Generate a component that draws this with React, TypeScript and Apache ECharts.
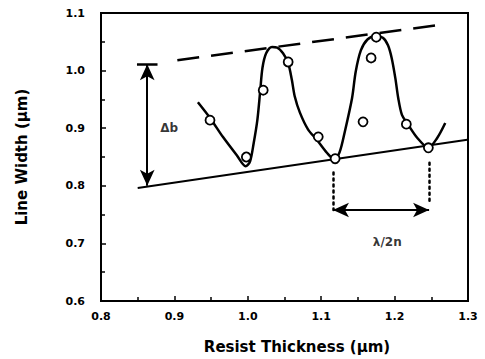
import React, { useEffect, useRef } from "react";
import * as echarts from "echarts";

const curveX = [0.932, 0.949, 0.966, 0.985, 0.997, 1.003, 1.008, 1.013, 1.017, 1.020, 1.025, 1.033, 1.040, 1.048, 1.055, 1.060, 1.064, 1.071, 1.082, 1.094, 1.108, 1.118, 1.125, 1.132, 1.142, 1.147, 1.154, 1.163, 1.174, 1.184, 1.191, 1.196, 1.201, 1.205, 1.210, 1.217, 1.231, 1.246, 1.258, 1.269];
const curveY = [0.945, 0.917, 0.885, 0.853, 0.834, 0.842, 0.874, 0.914, 0.966, 1.005, 1.030, 1.041, 1.040, 1.030, 1.013, 0.984, 0.955, 0.927, 0.898, 0.880, 0.857, 0.846, 0.858, 0.893, 0.952, 0.998, 1.035, 1.054, 1.060, 1.057, 1.044, 1.022, 0.987, 0.952, 0.923, 0.909, 0.883, 0.866, 0.883, 0.909];

// Measured points (open circles)
const pointX = [0.9485, 0.998, 1.021, 1.055, 1.096, 1.119, 1.157, 1.168, 1.175, 1.216, 1.246];
const pointY = [0.914, 0.85, 0.966, 1.015, 0.885, 0.847, 0.911, 1.022, 1.058, 0.907, 0.866];

// Lower envelope (solid) and upper envelope (dashed)
const lowerX = [0.85, 1.299];
const lowerY = [0.796, 0.88];
const upperX = [0.904, 1.271];
const upperY = [1.018, 1.081];

// Δb annotation
const deltaBX = 0.863;
const deltaBTop = 1.011;
const deltaBBottom = 0.8;
const deltaBBarX = [0.849, 0.877];
const deltaBLabel = { x: 0.893, y: 0.9, text: "Δb" };

// λ/2n annotation
const periodLeftX = 1.116;
const periodRightX = 1.247;
const periodLeftY = [0.823, 0.758];
const periodRightY = [0.84, 0.77];
const periodArrowY = 0.758;
const periodLabel = { x: 1.19, y: 0.703, text: "λ/2n" };

const xName = "Resist Thickness (μm)";
const yName = "Line Width (μm)";

const FONT = "DejaVu Sans";

export default function App() {
  const ref = useRef<HTMLDivElement>(null);
  useEffect(() => {
    if (!ref.current) return;
    const chart = echarts.init(ref.current, undefined, { renderer: "svg" });
    const black = "#000";
    const zip = (xs: number[], ys: number[]) => xs.map((x, i) => [x, ys[i]]);
    chart.setOption({
      animation: false,
      backgroundColor: "#fff",
      grid: { left: 101, right: 17, top: 13, bottom: 58, show: true, borderColor: black, borderWidth: 2, backgroundColor: "transparent" },
      xAxis: {
        type: "value", min: 0.8, max: 1.3, interval: 0.1,
        axisLine: { show: true, lineStyle: { color: black, width: 2 } },
        axisTick: { show: true, inside: true, length: 5, lineStyle: { color: black, width: 1.5 } },
        minorTick: { show: true, splitNumber: 2, length: 4, lineStyle: { color: black, width: 1.5 } },
        splitLine: { show: false },
        axisLabel: { formatter: (v: number) => v.toFixed(1), color: black, fontFamily: FONT, fontWeight: "bold", fontSize: 11, margin: 10 },
      },
      yAxis: {
        type: "value", min: 0.6, max: 1.1, interval: 0.1,
        axisLine: { show: true, lineStyle: { color: black, width: 2 } },
        axisTick: { show: true, inside: true, length: 5, lineStyle: { color: black, width: 1.5 } },
        minorTick: { show: true, splitNumber: 2, length: 4, lineStyle: { color: black, width: 1.5 } },
        splitLine: { show: false },
        axisLabel: { formatter: (v: number) => v.toFixed(1), color: black, fontFamily: FONT, fontWeight: "bold", fontSize: 11, margin: 16 },
      },
      graphic: [
        { type: "text", x: 297, y: 347, style: { text: xName, fill: black, font: `bold 15px "${FONT}"`, textAlign: "center", textVerticalAlign: "middle" } },
        { type: "text", x: 22, y: 157, rotation: Math.PI / 2, style: { text: yName, fill: black, font: `bold 15px "${FONT}"`, textAlign: "center", textVerticalAlign: "middle" } },
      ],
      series: [
        {
          type: "line", data: zip(curveX, curveY), smooth: 0.3, showSymbol: false, silent: true,
          lineStyle: { color: black, width: 2.5 }, z: 3,
        },
        {
          type: "line", data: zip(lowerX, lowerY), showSymbol: false, silent: true,
          lineStyle: { color: black, width: 2 }, z: 2,
        },
        {
          type: "line", data: zip(upperX, upperY), showSymbol: false, silent: true,
          lineStyle: { color: black, width: 2.5, type: [22, 12] }, z: 2,
        },
        {
          type: "scatter", data: zip(pointX, pointY), symbol: "circle", symbolSize: 9, silent: true,
          itemStyle: { color: "#fff", borderColor: black, borderWidth: 1.8, opacity: 1 }, z: 5,
        },
        {
          type: "line", data: [], silent: true,
          markLine: {
            silent: true, animation: false,
            label: { show: false },
            data: [
              [
                { coord: [deltaBX, deltaBTop], symbol: "arrow", symbolSize: [11, 16] },
                { coord: [deltaBX, deltaBBottom], symbol: "arrow", symbolSize: [11, 16], lineStyle: { color: black, width: 2, type: "solid" } },
              ],
              [
                { coord: [deltaBBarX[0], deltaBTop], symbol: "none" },
                { coord: [deltaBBarX[1], deltaBTop], symbol: "none", lineStyle: { color: black, width: 2.5, type: "solid" } },
              ],
              [
                { coord: [periodLeftX, periodLeftY[0]], symbol: "none" },
                { coord: [periodLeftX, periodLeftY[1]], symbol: "none", lineStyle: { color: black, width: 2.5, type: [2, 4], cap: "round" } },
              ],
              [
                { coord: [periodRightX, periodRightY[0]], symbol: "none" },
                { coord: [periodRightX, periodRightY[1]], symbol: "none", lineStyle: { color: black, width: 2.5, type: [2, 4], cap: "round" } },
              ],
              [
                { coord: [periodLeftX, periodArrowY], symbol: "arrow", symbolSize: [11, 16] },
                { coord: [periodRightX, periodArrowY], symbol: "arrow", symbolSize: [11, 16], lineStyle: { color: black, width: 2, type: "solid" } },
              ],
            ],
          },
        },
        {
          type: "scatter", silent: true, symbolSize: 1, itemStyle: { color: "transparent" },
          data: [
            { value: [deltaBLabel.x, deltaBLabel.y], label: { show: true, formatter: deltaBLabel.text } },
            { value: [periodLabel.x, periodLabel.y], label: { show: true, formatter: periodLabel.text } },
          ],
          label: { position: "inside", color: black, fontFamily: FONT, fontWeight: "bold", fontSize: 12 },
        },
      ],
    });
    return () => chart.dispose();
  }, []);
  return <div ref={ref} style={{ position: "absolute", left: 0, top: 0, width: 485, height: 359, background: "#fff" }} />;
}
